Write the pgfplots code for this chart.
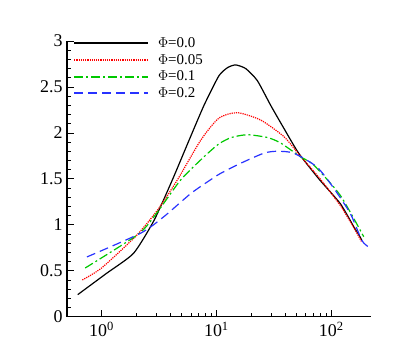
\documentclass[border=0pt]{standalone}
\usepackage{pgfplots}
\pgfplotsset{compat=1.18}
\usepackage{fontspec}
\setmainfont{Liberation Serif}
\definecolor{cgreen}{RGB}{0,200,0}
\definecolor{cblue}{RGB}{40,50,255}
\begin{document}
\begin{tikzpicture}
\useasboundingbox (-67bp,-45.3bp) rectangle (340bp,316.7bp);
\begin{axis}[
  xmode=log,
  scale only axis,
  width=304bp, height=275.7bp,
  xmin=0.5, xmax=222, ymin=0, ymax=3,
  axis lines=left,
  axis line style={-, line width=1.1pt},
  tick align=inside,
  tick style={black, line width=0.8pt},
  major tick length=7bp,
  minor tick length=4bp,
  xtick={1,10,100},
  xticklabels={10\textsuperscript{0},10\textsuperscript{1},10\textsuperscript{2}},
  ytick={0,0.5,1,1.5,2,2.5,3},
  minor y tick num=4,
  /pgf/number format/assume math mode=true,
  tick label style={font=\fontsize{18}{18}\selectfont},
  yticklabel style={xshift=-1bp},
  xticklabel style={yshift=-2bp},
  legend style={draw=none, fill=none, at={(0.02,1.02)}, anchor=north west,
    font=\fontsize{15}{16}\selectfont, row sep=1.2bp, inner sep=0pt},
  legend cell align=left,
  legend image code/.code={\draw[#1, line width=1.8pt] (0bp,0bp) -- (74bp,0bp);},
  clip=false,
]
\addplot[black, line width=1.2pt, smooth, tension=0.35] coordinates {
(0.62,0.24) (1.1,0.47) (1.9,0.69) (2.87,1.05) (4.14,1.49) (5.78,1.92) (7.8,2.30)
(10.5,2.62) (12.5,2.71) (14.7,2.74) (18,2.70) (22.7,2.57) (29.7,2.30) (38.7,2.05) (52,1.78)
(78,1.50) (120,1.23) (157,0.98) (178,0.87) (185,0.83)
};
\addlegendentry{\hspace*{7bp}$\Phi$=0.0}
\addplot[red, line width=1.2pt, densely dotted, smooth, tension=0.4] coordinates {
(0.68,0.40) (1.0,0.53) (2.0,0.88) (3.07,1.16) (4.58,1.49) (7.3,1.92) (10.5,2.16)
(15.2,2.22) (24.3,2.14) (38.7,1.96) (52,1.77) (80,1.50) (120,1.21) (157,0.97) (185,0.81)
};
\addlegendentry{\hspace*{7bp}$\Phi$=0.05}
\addplot[cgreen, line width=1.2pt, dash pattern=on 9bp off 3bp on 2bp off 3bp, smooth, tension=0.4] coordinates {
(0.72,0.53) (2.1,0.90) (3.07,1.14) (4.9,1.49) (7.8,1.74) (10.5,1.88) (13.5,1.95) (18.6,1.98)
(27.8,1.95) (36.3,1.89) (54,1.74) (70.5,1.65) (120,1.32) (192,0.87)
};
\addlegendentry{\hspace*{7bp}$\Phi$=0.1}
\addplot[cblue, line width=1.2pt, dash pattern=on 9bp off 5bp, smooth, tension=0.4] coordinates {
(0.745,0.65) (2.2,0.91) (3.5,1.09) (5.98,1.34) (8.9,1.49) (10.9,1.56) (16.3,1.67)
(26,1.78) (33.8,1.80) (47,1.78) (75,1.63) (105,1.40) (147,1.12) (185,0.83) (211,0.76)
};
\addlegendentry{\hspace*{7bp}$\Phi$=0.2}
\end{axis}
\end{tikzpicture}
\end{document}
